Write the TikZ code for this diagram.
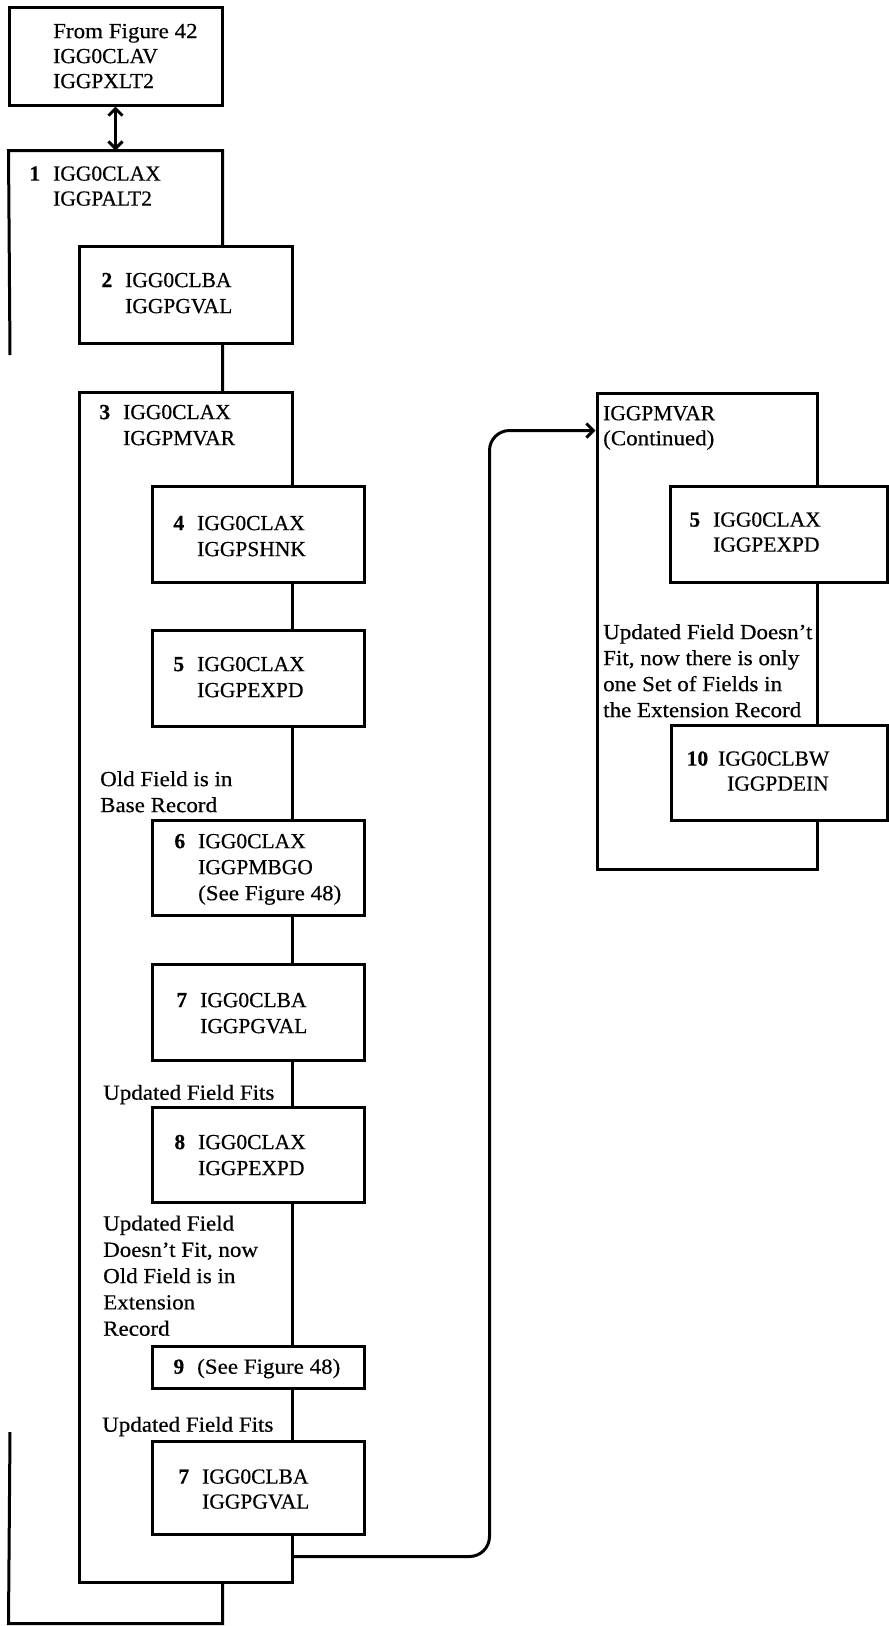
\documentclass[tikz,border=0pt]{standalone}
\usepackage{fontspec}
\setmainfont{Liberation Serif}[FakeBold=0.4]
% slightly wider face for the running-text labels
\newfontfamily\lblfont{Liberation Serif}[FakeBold=0.4, FakeStretch=1.07, Ligatures=TeX]
\usetikzlibrary{arrows.meta}
% strut of equal height/depth on every text line
\newcommand\lnstrut{\rule[-3.8pt]{0pt}{21.8pt}}
% step number hanging to the left of the module name
\newcommand\stepno[2][13pt]{\llap{\textbf{#2}\hspace{#1}}}
\begin{document}
\begin{tikzpicture}[x=1pt,y=-1pt,
  box/.style={draw, line width=3pt, fill=white, rectangle, inner sep=0pt},
  line/.style={line width=3pt},
  txt/.style={anchor=west, align=left, inner sep=0pt, font=\fontsize{21.5}{26}\selectfont},
  lbl/.style={txt, font=\fontsize{21.5}{26}\selectfont\lblfont},
  >={Straight Barb[length=7pt,width=14pt]},
  arr/.style={line width=3pt, ->},
  dbl/.style={line width=3pt, <->},
  ]
\useasboundingbox (0,0) rectangle (889,1626);

% outer frame 1 (left side broken)
\node[box, draw=none, fill=none, minimum width=211, minimum height=1470] (F1) at (115.5,887) {};
\coordinate (f1a) at (10,355);
\coordinate (f1b) at (10,1432);
\draw[line] (f1a) -- (F1.north west) -- (F1.north east) -- (F1.south east) -- (F1.south west) -- (f1b);

% entry box
\node[box, minimum width=213, minimum height=98] (T) at (115.5,56) {};
\draw[dbl] (T.south) -- (T.south |- F1.north);

% level 2
\node[box, minimum width=213, minimum height=97] (B2) at (185.5,294.5) {};
\node[box, minimum width=213, minimum height=1190] (F3) at (185.5,987) {};

% level 3 boxes inside frame 3
\node[box, minimum width=212, minimum height=96] (B4) at (258,534) {};
\node[box, minimum width=212, minimum height=96] (B5) at (258,678) {};
\node[box, minimum width=212, minimum height=95] (B6) at (258,867.5) {};
\node[box, minimum width=212, minimum height=96] (B7) at (258,1012) {};
\node[box, minimum width=212, minimum height=95] (B8) at (258,1154.5) {};
\node[box, minimum width=212, minimum height=42] (B9) at (258,1367) {};
\node[box, minimum width=212, minimum height=93] (B7b) at (258,1487.5) {};

% continuation frame
\node[box, minimum width=220, minimum height=476] (R) at (707,631) {};
\node[box, minimum width=217, minimum height=96] (B5r) at (778.5,534) {};
\node[box, minimum width=216, minimum height=95] (B10) at (779,772.5) {};

% link to the continuation
\draw[arr, rounded corners=20pt] ([yshift=27pt]F3.south east) -- ++(196,0) |- ([yshift=-39pt]R.north west);

% texts in boxes
\node[txt, font=\fontsize{21.5}{25}\selectfont] (tT) at (53,56)
  {\lnstrut{\lblfont From Figure 42}\\\lnstrut IGG0CLAV\\\lnstrut IGGPXLT2};
\node[txt, font=\fontsize{21.5}{25}\selectfont] (t1) at (53,186)
  {\lnstrut\stepno{1}IGG0CLAX\\\lnstrut IGGPALT2};
\node[txt] (t2) at (125,293) {\lnstrut\stepno{2}IGG0CLBA\\\lnstrut IGGPGVAL};
\node[txt] (t3) at (123,425) {\lnstrut\stepno{3}IGG0CLAX\\\lnstrut IGGPMVAR};
\node[txt] (t4) at (197,536) {\lnstrut\stepno{4}IGG0CLAX\\\lnstrut IGGPSHNK};
\node[txt] (t5) at (197,677) {\lnstrut\stepno{5}IGG0CLAX\\\lnstrut IGGPEXPD};
\node[txt] (t6) at (198,867.5) {\lnstrut\stepno{6}IGG0CLAX\\\lnstrut IGGPMBGO\\\lnstrut{\lblfont (See Figure 48)}};
\node[txt] (t7) at (200,1013) {\lnstrut\stepno{7}IGG0CLBA\\\lnstrut IGGPGVAL};
\node[txt] (t8) at (198,1155) {\lnstrut\stepno{8}IGG0CLAX\\\lnstrut IGGPEXPD};
\node[txt] (t9) at (197,1367) {\lnstrut\stepno{9}{\lblfont (See Figure 48)}};
\node[txt, font=\fontsize{21.5}{25}\selectfont] (t7b) at (202,1489) {\lnstrut\stepno{7}IGG0CLBA\\\lnstrut IGGPGVAL};

\node[txt, font=\fontsize{21.5}{25}\selectfont] (tR) at (603,426) {\lnstrut IGGPMVAR\\\lnstrut{\lblfont (Continued)}};
\node[txt, font=\fontsize{21.5}{25}\selectfont] (t5r) at (713,532) {\lnstrut\stepno{5}IGG0CLAX\\\lnstrut IGGPEXPD};
\node[txt, font=\fontsize{21.5}{25}\selectfont] (t10) at (718,771) {\lnstrut\stepno[10pt]{10}IGG0CLBW\\\lnstrut\hspace*{9pt}IGGPDEIN};

% condition labels
\node[lbl] (lOld) at (100,792) {\lnstrut Old Field is in\\\lnstrut Base Record};
\node[lbl] (lFit1) at (103,1093) {\lnstrut Updated Field Fits};
\node[lbl, font=\fontsize{21.5}{26.3}\selectfont\lblfont] (lUpd) at (103,1276)
  {\lnstrut Updated Field\\\lnstrut Doesn’t Fit, now\\\lnstrut Old Field is in\\\lnstrut Extension\\\lnstrut Record};
\node[lbl] (lFit2) at (102,1425) {\lnstrut Updated Field Fits};
\node[lbl] (lRight) at (603,671)
  {\lnstrut Updated Field Doesn’t\\\lnstrut Fit, now there is only\\\lnstrut one Set of Fields in\\\lnstrut the Extension Record};
\end{tikzpicture}
\end{document}
